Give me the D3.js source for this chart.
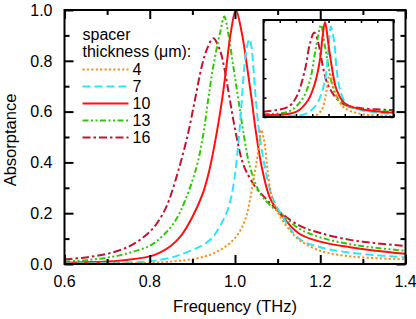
<!DOCTYPE html>
<html>
<head>
<meta charset="utf-8">
<script src="https://cdn.jsdelivr.net/npm/d3@7"></script>
<style>
  body { margin: 0; background: #fff; }
  text { font-family: "Liberation Sans", Arial, sans-serif; fill: #000; }
</style>
</head>
<body>
<div id="chart"></div>
<script>
// spacer thickness values (um) and styles
var thickness = ["4", "7", "10", "13", "16"];

// main plot
var freq4 = [0.6, 0.7, 0.8, 0.86, 0.9, 0.93, 0.95, 0.97, 0.99, 1.01, 1.025, 1.035, 1.043, 1.051, 1.057, 1.061, 1.068, 1.075, 1.082, 1.09, 1.105, 1.13, 1.15, 1.2, 1.25, 1.3, 1.4];
var abs4  = [0.001, 0.002, 0.004, 0.011, 0.019, 0.03, 0.042, 0.06, 0.085, 0.125, 0.18, 0.25, 0.33, 0.405, 0.475, 0.528, 0.49, 0.39, 0.3, 0.245, 0.19, 0.13, 0.095, 0.052, 0.034, 0.026, 0.018];

var freq7 = [0.6, 0.7, 0.8, 0.85, 0.87, 0.9, 0.93, 0.95, 0.965, 0.98, 0.992, 1.002, 1.01, 1.016, 1.022, 1.028, 1.034, 1.039, 1.043, 1.049, 1.057, 1.07, 1.086, 1.105, 1.15, 1.2, 1.27, 1.4];
var abs7  = [0.002, 0.004, 0.011, 0.025, 0.036, 0.055, 0.08, 0.11, 0.15, 0.2, 0.27, 0.38, 0.515, 0.646, 0.777, 0.855, 0.885, 0.85, 0.777, 0.646, 0.515, 0.383, 0.27, 0.205, 0.1, 0.066, 0.045, 0.026];

var freq10 = [0.6, 0.65, 0.7, 0.75, 0.8, 0.825, 0.85, 0.875, 0.9, 0.925, 0.94, 0.957, 0.97, 0.98, 0.99, 1.002, 1.016, 1.028, 1.039, 1.049, 1.063, 1.082, 1.105, 1.15, 1.2, 1.27, 1.33, 1.4];
var abs10  = [0.005, 0.007, 0.01, 0.017, 0.03, 0.046, 0.072, 0.115, 0.185, 0.28, 0.37, 0.515, 0.65, 0.78, 0.91, 1.0, 0.91, 0.78, 0.65, 0.52, 0.38, 0.26, 0.2, 0.12, 0.088, 0.066, 0.052, 0.04];

var freq13 = [0.6, 0.65, 0.7, 0.75, 0.8, 0.83, 0.86, 0.883, 0.91, 0.926, 0.937, 0.949, 0.965, 0.975, 0.984, 0.996, 1.008, 1.02, 1.035, 1.059, 1.086, 1.105, 1.15, 1.2, 1.27, 1.33, 1.4];
var abs13  = [0.01, 0.015, 0.025, 0.043, 0.072, 0.11, 0.17, 0.25, 0.383, 0.515, 0.646, 0.778, 0.91, 0.974, 0.91, 0.778, 0.646, 0.515, 0.383, 0.278, 0.226, 0.203, 0.14, 0.105, 0.078, 0.064, 0.052];

var freq16 = [0.6, 0.65, 0.7, 0.75, 0.785, 0.81, 0.83, 0.845, 0.87, 0.89, 0.906, 0.922, 0.934, 0.949, 0.965, 0.975, 0.988, 1.002, 1.02, 1.045, 1.065, 1.085, 1.105, 1.15, 1.2, 1.27, 1.33, 1.4];
var abs16  = [0.018, 0.026, 0.04, 0.068, 0.105, 0.145, 0.195, 0.25, 0.385, 0.515, 0.646, 0.778, 0.845, 0.889, 0.84, 0.77, 0.646, 0.515, 0.39, 0.31, 0.27, 0.235, 0.205, 0.152, 0.122, 0.095, 0.082, 0.071];

// inset
var insetFreq4 = [0.7, 0.9, 0.953, 0.986, 1.005, 1.022, 1.028, 1.044, 1.068, 1.101, 1.183, 1.34];
var insetAbs4  = [0.0, 0.003, 0.012, 0.072, 0.21, 0.415, 0.44, 0.31, 0.175, 0.09, 0.03, 0.01];

var insetFreq7 = [0.7, 0.82, 0.904, 0.953, 0.986, 1.008, 1.022, 1.032, 1.049, 1.06, 1.077, 1.109, 1.183, 1.34];
var insetAbs7  = [0.008, 0.015, 0.03, 0.106, 0.244, 0.45, 0.76, 0.93, 0.76, 0.485, 0.28, 0.134, 0.07, 0.03];

var insetFreq10 = [0.7, 0.863, 0.92, 0.953, 0.978, 0.991, 1.003, 1.019, 1.036, 1.06, 1.101, 1.183, 1.34];
var insetAbs10  = [0.02, 0.055, 0.175, 0.347, 0.59, 0.83, 0.98, 0.76, 0.52, 0.28, 0.14, 0.08, 0.045];

var insetFreq13 = [0.7, 0.822, 0.888, 0.929, 0.953, 0.97, 0.983, 1.003, 1.022, 1.052, 1.101, 1.183, 1.34];
var insetAbs13  = [0.031, 0.055, 0.175, 0.38, 0.657, 0.845, 0.95, 0.725, 0.5, 0.244, 0.124, 0.08, 0.055];

var insetFreq16 = [0.7, 0.822, 0.863, 0.904, 0.929, 0.95, 0.97, 0.986, 1.011, 1.052, 1.101, 1.183, 1.34];
var insetAbs16  = [0.055, 0.106, 0.21, 0.485, 0.76, 0.87, 0.76, 0.59, 0.364, 0.21, 0.124, 0.09, 0.072];

var xTicks = [0.6, 0.8, 1.0, 1.2, 1.4];
var yTicks = [0.0, 0.2, 0.4, 0.6, 0.8, 1.0];

var mainFreqs = [freq4, freq7, freq10, freq13, freq16];
var mainAbs = [abs4, abs7, abs10, abs13, abs16];
var insetFreqs = [insetFreq4, insetFreq7, insetFreq10, insetFreq13, insetFreq16];
var insetAbs = [insetAbs4, insetAbs7, insetAbs10, insetAbs13, insetAbs16];

var colors = ["#f7901e", "#2ee6f6", "#ff1010", "#2ec80a", "#c01430"];
var dashes = ["2.2,2.2", "8,4", null, "6,2.5,2,2.5,2,2.5", "8,3,2.5,3"];

var svgWidth = 416;
var svgHeight = 319;

var margin = { top: 10, right: 10.5, bottom: 55, left: 64.5 };
var width = svgWidth - margin.left - margin.right;
var height = svgHeight - margin.top - margin.bottom;

var svg = d3.select("#chart")
  .append("svg")
  .attr("width", svgWidth)
  .attr("height", svgHeight);

var chartGroup = svg.append("g")
  .attr("transform", `translate(${margin.left}, ${margin.top})`);

var xScale = d3.scaleLinear().domain([0.6, 1.4]).range([0, width]);
var yScale = d3.scaleLinear().domain([0, 1]).range([height, 0]);

chartGroup.append("defs").append("clipPath").attr("id", "clipMain")
  .append("rect").attr("width", width).attr("height", height);

// curves
var line = d3.line()
  .x(d => xScale(d[0]))
  .y(d => yScale(d[1]))
  .curve(d3.curveCatmullRom.alpha(0.5));

var curves = chartGroup.append("g").attr("clip-path", "url(#clipMain)");
[4, 3, 2, 1, 0].forEach(function(i) {
  var pts = mainFreqs[i].map((f, j) => [f, mainAbs[i][j]]);
  curves.append("path")
    .attr("d", line(pts))
    .attr("fill", "none")
    .attr("stroke", colors[i])
    .attr("stroke-width", 2)
    .attr("stroke-dasharray", dashes[i]);
});

// ticks on all four sides, pointing in
function ticks(g, axis, len, sw) {
  g.call(axis.tickSizeInner(-len).tickSizeOuter(0).tickFormat(""))
    .call(a => a.select(".domain").remove())
    .call(a => a.selectAll("line").attr("stroke", "#000").attr("stroke-width", sw));
}
var xMinor = d3.range(0.7, 1.4, 0.2);
var yMinor = d3.range(0.1, 1.0, 0.2);

ticks(chartGroup.append("g").attr("transform", `translate(0, ${height})`), d3.axisBottom(xScale).tickValues(xTicks), 9, 2);
ticks(chartGroup.append("g").attr("transform", `translate(0, ${height})`), d3.axisBottom(xScale).tickValues(xMinor), 5, 2);
ticks(chartGroup.append("g"), d3.axisTop(xScale).tickValues(xTicks), 9, 2);
ticks(chartGroup.append("g"), d3.axisTop(xScale).tickValues(xMinor), 5, 2);
ticks(chartGroup.append("g"), d3.axisLeft(yScale).tickValues(yTicks), 9, 2);
ticks(chartGroup.append("g"), d3.axisLeft(yScale).tickValues(yMinor), 5, 2);
ticks(chartGroup.append("g").attr("transform", `translate(${width}, 0)`), d3.axisRight(yScale).tickValues(yTicks), 9, 2);
ticks(chartGroup.append("g").attr("transform", `translate(${width}, 0)`), d3.axisRight(yScale).tickValues(yMinor), 5, 2);

// tick labels
chartGroup.selectAll(".xlab")
  .data(xTicks)
  .enter()
  .append("text")
  .attr("x", d => xScale(d))
  .attr("y", height + 23)
  .attr("text-anchor", "middle")
  .style("font-size", "16px")
  .text(d => d.toFixed(1));

chartGroup.selectAll(".ylab")
  .data(yTicks)
  .enter()
  .append("text")
  .attr("x", -12)
  .attr("y", d => yScale(d))
  .attr("dy", "0.36em")
  .attr("text-anchor", "end")
  .style("font-size", "16px")
  .text(d => d.toFixed(1));

// frame
chartGroup.append("rect")
  .attr("width", width)
  .attr("height", height)
  .attr("fill", "none")
  .attr("stroke", "#000")
  .attr("stroke-width", 2);

// axis labels
chartGroup.append("text")
  .attr("x", xScale(1.0))
  .attr("y", height + 48)
  .attr("text-anchor", "middle")
  .style("font-size", "16.5px")
  .text("Frequency (THz)");

chartGroup.append("text")
  .attr("transform", "rotate(-90)")
  .attr("x", -height / 2 - 3)
  .attr("y", 16 - margin.left)
  .attr("text-anchor", "middle")
  .style("font-size", "16.5px")
  .text("Absorptance");

// legend
var legend = chartGroup.append("g").attr("transform", "translate(18, 0)");
legend.append("text").attr("x", 0).attr("y", 30).style("font-size", "16px").text("spacer");
legend.append("text").attr("x", 0).attr("y", 46.5).style("font-size", "16px").text("thickness (\u03bcm):");

thickness.forEach(function(t, i) {
  var yy = 59.5 + i * 17;
  legend.append("line")
    .attr("x1", 0).attr("x2", 46)
    .attr("y1", yy).attr("y2", yy)
    .attr("stroke", colors[i])
    .attr("stroke-width", 2)
    .attr("stroke-dasharray", dashes[i]);
  legend.append("text")
    .attr("x", 50)
    .attr("y", yy)
    .attr("dy", "0.36em")
    .style("font-size", "16px")
    .text(t);
});

// inset
var inset = { left: 263.5, top: 20, width: 130, height: 97 };
var insetGroup = svg.append("g")
  .attr("transform", `translate(${inset.left}, ${inset.top})`);

var xInset = d3.scaleLinear().domain([0.7, 1.34]).range([0, inset.width]);
var yInset = d3.scaleLinear().domain([0, 1]).range([inset.height, 0]);

insetGroup.append("rect")
  .attr("width", inset.width)
  .attr("height", inset.height)
  .attr("fill", "#fff");

insetGroup.append("defs").append("clipPath").attr("id", "clipInset")
  .append("rect").attr("width", inset.width).attr("height", inset.height);

var insetLine = d3.line()
  .x(d => xInset(d[0]))
  .y(d => yInset(d[1]))
  .curve(d3.curveCatmullRom.alpha(0.5));

var insetCurves = insetGroup.append("g").attr("clip-path", "url(#clipInset)");
[4, 3, 1, 0, 2].forEach(function(i) {
  var pts = insetFreqs[i].map((f, j) => [f, insetAbs[i][j]]);
  insetCurves.append("path")
    .attr("d", insetLine(pts))
    .attr("fill", "none")
    .attr("stroke", colors[i])
    .attr("stroke-width", 2)
    .attr("stroke-dasharray", dashes[i]);
});

var insetXTicks = d3.range(0, 9).map(i => 0.7 + i * 0.08);
var insetYTicks = [0, 0.2, 0.4, 0.6, 0.8, 1.0];
ticks(insetGroup.append("g").attr("transform", `translate(0, ${inset.height})`), d3.axisBottom(xInset).tickValues(insetXTicks), 3, 1.5);
ticks(insetGroup.append("g"), d3.axisTop(xInset).tickValues(insetXTicks), 3, 1.5);
ticks(insetGroup.append("g"), d3.axisLeft(yInset).tickValues(insetYTicks), 3, 1.5);
ticks(insetGroup.append("g").attr("transform", `translate(${inset.width}, 0)`), d3.axisRight(yInset).tickValues(insetYTicks), 3, 1.5);

insetGroup.append("rect")
  .attr("width", inset.width)
  .attr("height", inset.height)
  .attr("fill", "none")
  .attr("stroke", "#000")
  .attr("stroke-width", 2);
</script>
</body>
</html>
